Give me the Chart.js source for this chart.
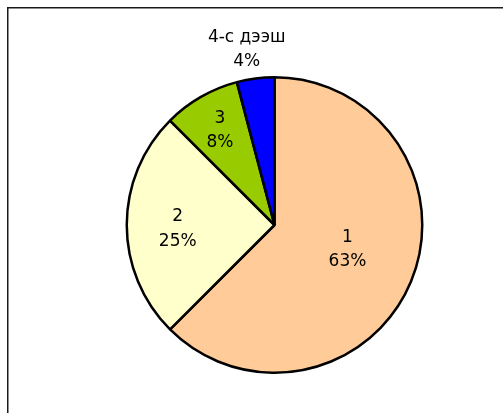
<!DOCTYPE html>
<html>
<head>
<meta charset="utf-8">
<script src="https://cdn.jsdelivr.net/npm/chart.js@4/dist/chart.umd.min.js"></script>
<style>
  html, body { margin: 0; padding: 0; background: #ffffff; }
  #wrap { width: 503px; height: 413px; position: relative; }
</style>
</head>
<body>
<div id="wrap"><canvas id="c" width="503" height="413"></canvas></div>
<script>
const categories = ["1", "2", "3", "4-с дээш"];
const values = [62.5, 25.0, 8.4, 4.1];
const colors = ["#FFCC99", "#FFFFCC", "#99CC00", "#0000FF"];

// label placement: fraction of radius along slice mid-angle, plus small nudges
const labelPlace = [
  { r: 0.52, dx: 2, dy: -5 },
  { r: 0.655, dx: 0, dy: 4 },
  { r: 0.74, dx: 0, dy: 0 },
  { r: 1.2, dx: -5, dy: 0 }
];

const framePlugin = {
  id: 'frame',
  beforeDraw(chart) {
    const ctx = chart.ctx;
    ctx.save();
    ctx.fillStyle = '#ffffff';
    ctx.fillRect(0, 0, chart.width, chart.height);
    ctx.strokeStyle = '#1a1a1a';
    ctx.lineWidth = 1.5;
    ctx.beginPath();
    ctx.moveTo(7.75, chart.height + 5);
    ctx.lineTo(7.75, 7.75);
    ctx.lineTo(chart.width + 5, 7.75);
    ctx.stroke();
    ctx.restore();
  }
};

const labelPlugin = {
  id: 'sliceLabels',
  afterDatasetsDraw(chart) {
    const ctx = chart.ctx;
    const meta = chart.getDatasetMeta(0);
    const data = chart.data.datasets[0].data;
    const total = data.reduce((a, b) => a + b, 0);
    ctx.save();
    ctx.font = '17px "DejaVu Sans", Verdana, sans-serif';
    ctx.fillStyle = '#000000';
    ctx.textAlign = 'center';
    ctx.textBaseline = 'middle';
    meta.data.forEach((arc, i) => {
      const p = arc.getProps(['x', 'y', 'startAngle', 'endAngle', 'outerRadius'], true);
      const mid = (p.startAngle + p.endAngle) / 2;
      const pl = labelPlace[i];
      const cx = p.x + Math.cos(mid) * p.outerRadius * pl.r + pl.dx;
      const cy = p.y + Math.sin(mid) * p.outerRadius * pl.r + pl.dy;
      const pct = Math.round(data[i] / total * 100) + '%';
      ctx.fillText(chart.data.labels[i], cx, cy - 12);
      ctx.fillText(pct, cx, cy + 12.5);
    });
    ctx.restore();
  }
};

new Chart(document.getElementById('c'), {
  type: 'pie',
  data: {
    labels: categories,
    datasets: [{
      data: values,
      backgroundColor: colors,
      borderColor: '#000000',
      borderWidth: 2.5
    }]
  },
  options: {
    responsive: false,
    animation: false,
    layout: { padding: { left: 125, right: 79, top: 76, bottom: 39 } },
    plugins: {
      legend: { display: false },
      tooltip: { enabled: false },
      title: { display: false }
    }
  },
  plugins: [framePlugin, labelPlugin]
});
</script>
</body>
</html>
